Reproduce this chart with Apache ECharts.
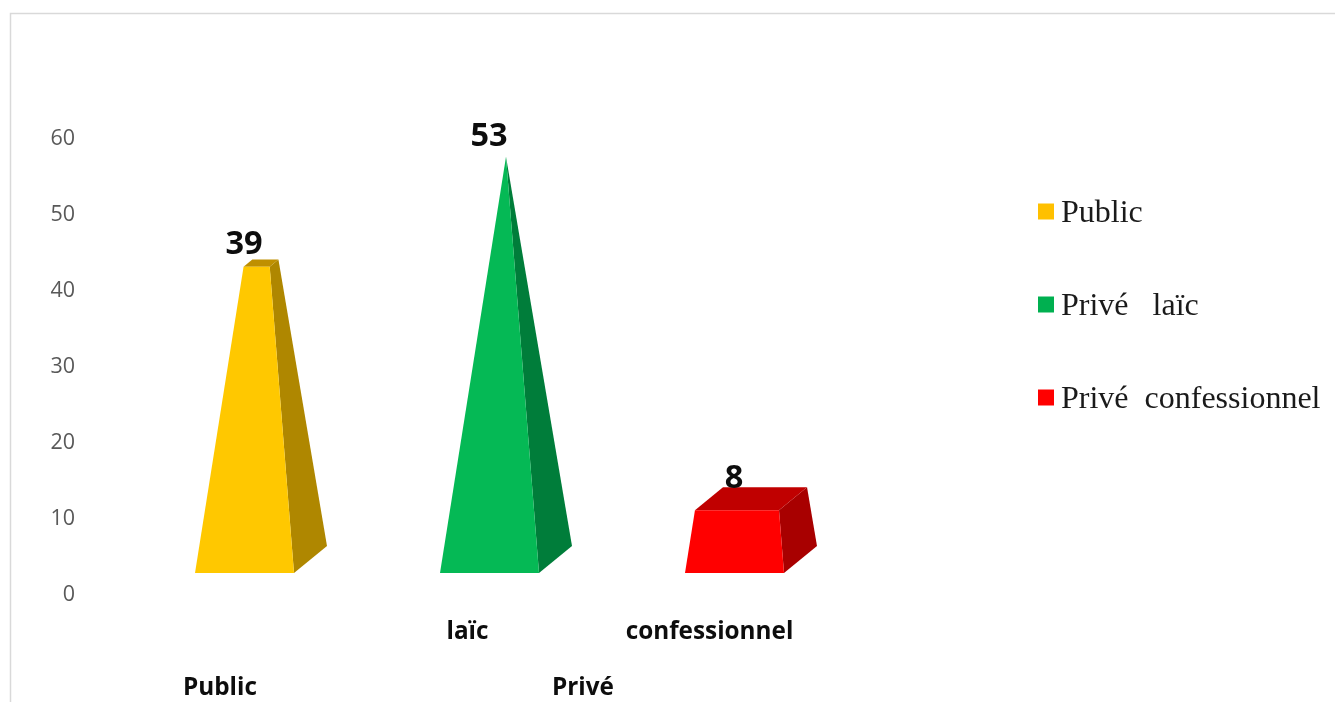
<!DOCTYPE html>
<html>
<head>
<meta charset="utf-8">
<style>html,body{margin:0;padding:0;background:#fff}#c{width:1335px;height:702px}</style>
<script src="https://cdn.jsdelivr.net/npm/echarts@6/dist/echarts.min.js"></script>
</head>
<body>
<div id="c"></div>
<script>
const categories = ['', 'laïc', 'confessionnel'];
const seriesNames = ['Public', 'Privé   laïc', 'Privé  confessionnel'];
const values = [39, 53, 8];
const yTicks = { min: 0, max: 60, interval: 10 };
const groupLabels = ['Public', 'Privé'];

const palette = [
  { legend: '#FFC000', front: '#FFC800', side: '#AF8700', top: '#BF9000' },
  { legend: '#00B050', front: '#05B955', side: '#007D3A', top: '#008A3C' },
  { legend: '#FF0000', front: '#FF0000', side: '#A80000', top: '#C00000' }
];
const labelNudge = [-18, -20, -20];
const peak = Math.max.apply(null, values);
const HALF = 49.5, DX = 33, DY = -27, FRONT_SHIFT = -20;
const catFont = { color: '#0D0D0D', fontFamily: 'Open Sans', fontWeight: 'bold', fontSize: 24.3 };
const tickFont = { color: '#595959', fontFamily: 'Open Sans', fontSize: 21.5 };
const legendFont = { fontFamily: 'Liberation Serif', fontSize: 32, color: '#1a1a1a' };

function renderPyramid(idx) {
  return function (params, api) {
    const cat = api.value(0), v = api.value(1);
    const p0 = api.coord([cat, 0]);
    const x = p0[0], base = p0[1] + FRONT_SHIFT;
    const c = palette[idx];
    const apex = [x + DX / 2, api.coord([cat, peak])[1] + FRONT_SHIFT + DY / 2];
    const t = v / peak;
    const at = (p) => [p[0] + (apex[0] - p[0]) * t, p[1] + (apex[1] - p[1]) * t];
    const fl = [x - HALF, base], fr = [x + HALF, base];
    const br = [x + HALF + DX, base + DY], bl = [x - HALF + DX, base + DY];
    const tfl = at(fl), tfr = at(fr), tbr = at(br), tbl = at(bl);
    const poly = (pts, fill) => ({ type: 'polygon', shape: { points: pts }, style: { fill: fill } });
    return {
      type: 'group',
      children: [
        poly([fr, br, tbr, tfr], c.side),
        poly([tfl, tfr, tbr, tbl], c.top),
        poly([fl, fr, tfr, tfl], c.front),
        {
          type: 'text',
          z2: 10,
          style: {
            text: String(v), x: x - 0.5, y: (tfl[1] + tbl[1]) / 2 + labelNudge[idx],
            fill: '#0D0D0D', font: 'bold 32.5px "Open Sans"', align: 'center', verticalAlign: 'middle'
          }
        }
      ]
    };
  };
}

const chart = echarts.init(document.getElementById('c'), null, { renderer: 'canvas' });
chart.setOption({
  animation: false,
  backgroundColor: '#fff',
  grid: { left: 122, right: 478, top: 137, bottom: 109 },
  xAxis: {
    type: 'category',
    data: categories,
    axisLine: { show: false },
    axisTick: { show: false },
    axisLabel: Object.assign({
      interval: 0, margin: 27,
      formatter: (v) => v === 'laïc' ? '{a|' + v + '}' : '{b|' + v + '}',
      rich: {
        a: Object.assign({ padding: [0, 44, 0, 0] }, catFont),
        b: Object.assign({ padding: [0, 50, 0, 0] }, catFont)
      }
    }, catFont)
  },
  yAxis: {
    type: 'value',
    min: yTicks.min, max: yTicks.max, interval: yTicks.interval,
    axisLine: { show: false },
    axisTick: { show: false },
    splitLine: { show: false },
    axisLabel: Object.assign({
      margin: 47,
      formatter: '{t|{value}}',
      rich: { t: Object.assign({ padding: [4, 0, 0, 0] }, tickFont) }
    }, tickFont)
  },
  legend: {
    orient: 'vertical', left: 1033, top: 193,
    itemWidth: 16, itemHeight: 16, itemGap: 61, icon: 'rect',
    formatter: (n) => '{t|' + n + '}',
    textStyle: Object.assign({
      rich: { t: Object.assign({ padding: [5, 0, 0, 2] }, legendFont) }
    }, legendFont),
    data: seriesNames
  },
  series: seriesNames.map((name, i) => ({
    type: 'custom',
    name: name,
    itemStyle: { color: palette[i].legend },
    renderItem: renderPyramid(i),
    clip: false,
    encode: { x: 0, y: 1 },
    data: [[i, values[i]]]
  })),
  graphic: [
    { type: 'polyline', silent: true, shape: { points: [[10.5, 702], [10.5, 13.5], [1335, 13.5]] },
      style: { stroke: '#D9D9D9', lineWidth: 1.5, fill: null } },
    { type: 'text', left: 183, top: 676, silent: true,
      style: { text: groupLabels[0], font: 'bold 24.3px "Open Sans"', fill: '#0D0D0D' } },
    { type: 'text', left: 552, top: 676, silent: true,
      style: { text: groupLabels[1], font: 'bold 24.3px "Open Sans"', fill: '#0D0D0D' } }
  ]
});
</script>
</body>
</html>
